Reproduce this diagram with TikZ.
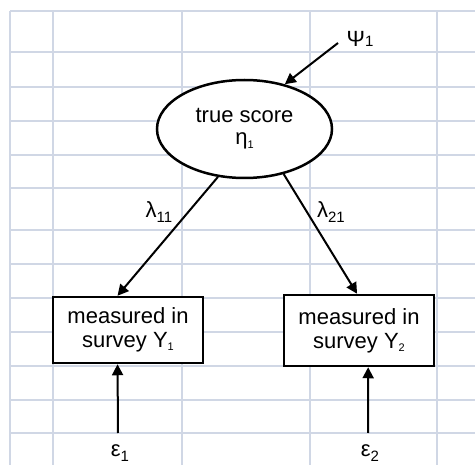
\documentclass[tikz,border=0pt]{standalone}
\usepackage{fontspec}
\setmainfont{Liberation Sans}
\usetikzlibrary{arrows.meta,shapes.geometric}
\definecolor{gridc}{RGB}{208,215,229}
\newcommand\bigsub[1]{\raisebox{-0.2em}{\fontsize{15}{15}\selectfont #1}}
\newcommand\flatsub[1]{{\fontsize{15}{15}\selectfont #1}}
\newcommand\smallsub[1]{\raisebox{-0.15em}{\fontsize{11}{11}\selectfont #1}}
\tikzset{
  gridline/.style={draw=gridc,line width=2pt},
  conn/.style={draw=black,line width=2pt,-{Triangle[length=11pt,width=11pt]}},
  latent/.style={ellipse,draw=black,line width=2.5pt,fill=white,minimum width=175pt,minimum height=98pt,inner sep=0pt,align=center},
  observed/.style={rectangle,draw=black,line width=2.5pt,fill=white,minimum width=150pt,inner sep=0pt,align=center},
  lbl/.style={inner sep=0pt,font=\fontsize{22}{24}\selectfont}
}
\begin{document}
\begin{tikzpicture}[x=1pt,y=-1pt,font=\fontsize{22}{24}\selectfont]
\useasboundingbox (0,0) rectangle (475,465);
\fill[white] (0,0) rectangle (475,465);
\clip (0,0) rectangle (475,465);
% grid
\foreach \gx in {10,53,182,310,437} \draw[gridline] (\gx,11) -- (\gx,470);
\foreach \gy in {11,52,87,121,155,188,230,264,298,332,366,400,433} \draw[gridline] (10,\gy) -- (480,\gy);
% nodes
\node[latent] (eta) at (244.5,129) {true score\\[-2pt]η\smallsub{1}};
\node[observed,minimum height=66pt] (box1) at (128,330) {measured in\\survey Y\smallsub{1}};
\node[observed,minimum height=71pt] (box2) at (359,330.5) {measured in\\survey Y\smallsub{2}};
\node[lbl] (psi) at (360,39) {Ψ\flatsub{1}};
\node[lbl] (lam1) at (159,212) {λ\bigsub{11}};
\node[lbl] (lam2) at (331,212) {λ\bigsub{21}};
\node[lbl] (eps1) at (120,453) {ε\bigsub{1}};
\node[lbl] (eps2) at (370,453) {ε\bigsub{2}};
\coordinate (psis) at (338,43);
\coordinate (e1s) at (118,433);
\coordinate (e2s) at (368,433);
% connectors
\draw[conn] (psis) -- (eta.48);
\draw[conn] (eta.-119) -- (box1.107);
\draw[conn] (eta.-49) -- (box2.93);
\draw[conn] (e1s) -- (box1.-107);
\draw[conn] (e2s) -- (box2.-76);
\end{tikzpicture}
\end{document}
